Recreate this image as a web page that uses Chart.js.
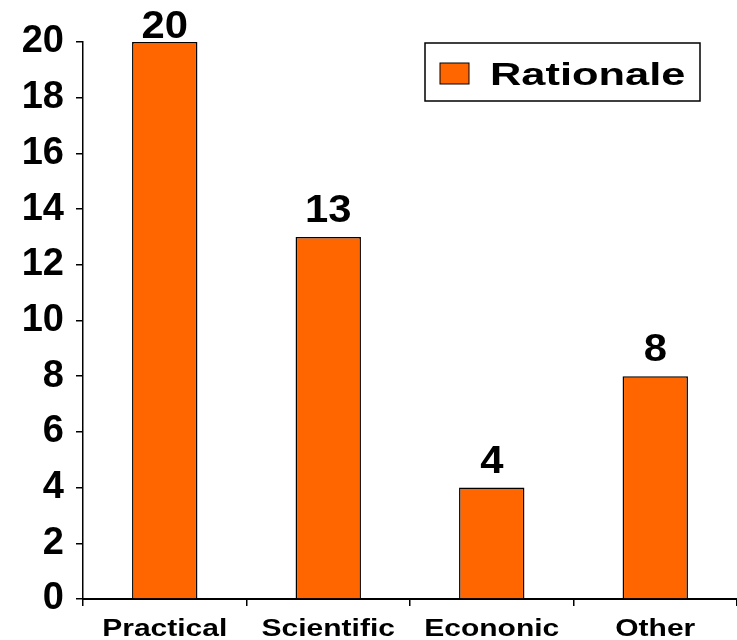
<!DOCTYPE html>
<html>
<head>
<meta charset="utf-8">
<script src="https://cdn.jsdelivr.net/npm/chart.js@4"></script>
<style>
  html, body { margin: 0; padding: 0; background: #fff; }
  #wrap { width: 737px; height: 640px; }
</style>
</head>
<body>
<div id="wrap"><canvas id="rationaleChart" width="737" height="640"></canvas></div>
<script>
const categories = ['Practical', 'Scientific', 'Econonic', 'Other'];
const counts = [20, 13, 4, 8];
const yTicks = [0, 2, 4, 6, 8, 10, 12, 14, 16, 18, 20];
const seriesName = 'Rationale';

const FONT = "'Liberation Sans', Arial, sans-serif";

// the source text is a bit wide, so draw it with a horizontal stretch
function wideText(ctx, text, x, y, font, sx) {
    ctx.save();
    ctx.translate(x, y);
    ctx.scale(sx, 1);
    ctx.font = font;
    ctx.fillText(text, 0, 0);
    ctx.restore();
}

// value labels above each bar
const valueLabels = {
    id: 'valueLabels',
    afterDatasetsDraw(chart) {
        const ctx = chart.ctx;
        const meta = chart.getDatasetMeta(0);
        ctx.save();
        ctx.fillStyle = '#000';
        ctx.textAlign = 'center';
        ctx.textBaseline = 'alphabetic';
        meta.data.forEach((bar, i) => {
            const y = Math.max(bar.y - 15, 38);
            wideText(ctx, String(chart.data.datasets[0].data[i]), bar.x, y, 'bold 38px ' + FONT, 1.1);
        });
        ctx.restore();
    }
};

// category names under the x axis
const xLabels = {
    id: 'xLabels',
    afterDraw(chart) {
        const ctx = chart.ctx;
        const xs = chart.scales.x;
        ctx.save();
        ctx.fillStyle = '#000';
        ctx.textAlign = 'center';
        ctx.textBaseline = 'alphabetic';
        chart.data.labels.forEach((lab, i) => {
            wideText(ctx, lab, xs.getPixelForTick(i), xs.bottom - 4, 'bold 24px ' + FONT, 1.25);
        });
        ctx.restore();
    }
};

// boxed legend sitting inside the plot, top right
const boxLegend = {
    id: 'boxLegend',
    afterDraw(chart) {
        const ctx = chart.ctx;
        const ds = chart.data.datasets[0];
        ctx.save();
        ctx.fillStyle = '#fff';
        ctx.fillRect(425, 43, 275, 58);
        ctx.strokeStyle = '#000';
        ctx.lineWidth = 1.5;
        ctx.strokeRect(425, 43, 275, 58);
        ctx.fillStyle = ds.backgroundColor;
        ctx.fillRect(440, 63, 29, 21);
        ctx.lineWidth = 1;
        ctx.strokeRect(440, 63, 29, 21);
        ctx.fillStyle = '#000';
        ctx.textBaseline = 'alphabetic';
        wideText(ctx, ds.label, 490, 85, 'bold 31px ' + FONT, 1.4);
        ctx.restore();
    }
};

const ctxBar = document.getElementById('rationaleChart').getContext('2d');
const rationaleChart = new Chart(ctxBar, {
    type: 'bar',
    data: {
        labels: categories,
        datasets: [{
            label: seriesName,
            data: counts,
            backgroundColor: '#FF6600',
            borderColor: '#000000',
            borderWidth: 1.5,
            categoryPercentage: 1.0,
            barPercentage: 0.4
        }]
    },
    options: {
        responsive: false,
        animation: false,
        layout: {
            padding: { top: 42, left: 0, right: 0, bottom: 0 }
        },
        plugins: {
            legend: { display: false },
            tooltip: { enabled: false }
        },
        scales: {
            x: {
                offset: true,
                grid: {
                    offset: true,
                    drawOnChartArea: false,
                    color: '#000',
                    tickLength: 7,
                    lineWidth: 1.5
                },
                border: { color: '#000', width: 2 },
                ticks: { display: false },
                afterFit(scale) { scale.height = 41; }
            },
            y: {
                min: 0,
                max: 20,
                afterBuildTicks(scale) {
                    scale.ticks = yTicks.map(v => ({ value: v }));
                },
                grid: {
                    drawOnChartArea: false,
                    color: '#000',
                    tickLength: 7,
                    lineWidth: 1.5
                },
                border: { color: '#000', width: 1.5 },
                ticks: {
                    color: '#000',
                    padding: 12,
                    font: { family: FONT, size: 38, weight: 'bold' }
                },
                afterFit(scale) { scale.width = 83; }
            }
        }
    },
    plugins: [valueLabels, xLabels, boxLegend]
});
</script>
</body>
</html>
